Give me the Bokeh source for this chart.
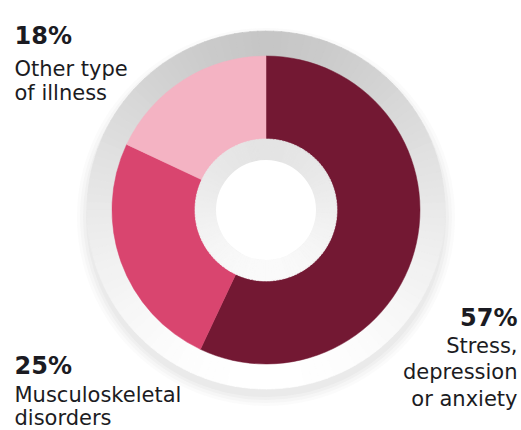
import math
from bokeh.plotting import figure
from bokeh.models import Range1d
from bokeh.core.properties import value
from bokeh.embed import file_html
from bokeh.resources import INLINE

# ---- data ----
categories = ["Stress, depression or anxiety", "Musculoskeletal disorders", "Other type of illness"]
shares = [57, 25, 18]
pct_labels = ["57%", "25%", "18%"]
name_lines = [["Stress,", "depression", "or anxiety"],
              ["Musculoskeletal", "disorders"],
              ["Other type", "of illness"]]
colors = ["#731833", "#d9456f", "#f4b3c3"]

W, H = 521, 430
cx, cy = 265.5, H - 209.5
R_seg, R_out = 154, 179
R_in_ring, R_hole = 71, 50

p = figure(width=W, height=H, x_range=Range1d(0, W), y_range=Range1d(0, H),
           output_backend="svg", toolbar_location=None, min_border=0,
           x_axis_location=None, y_axis_location=None)
p.grid.visible = False
p.outline_line_color = None
p.background_fill_color = "white"
p.border_fill_color = "white"

# soft shadow below the outer ring
for dr, a in [(10, 0.035), (7, 0.05), (4, 0.06), (1, 0.07)]:
    p.circle(x=[cx], y=[cy - 7], radius=R_out + dr, fill_color="#9a9a9a",
             fill_alpha=a, line_color=None)

def gradient_ring(r0, r1, top, bottom, n=144, gamma=0.8):
    xs, ys, st, en, cols = [], [], [], [], []
    for i in range(n):
        a0 = 2 * math.pi * i / n
        a1 = 2 * math.pi * (i + 1) / n
        m = (a0 + a1) / 2
        t = ((1 - math.sin(m)) / 2) ** gamma
        v = int(round(top + (bottom - top) * t))
        xs.append(cx); ys.append(cy); st.append(a0); en.append(a1 + 0.004)
        cols.append("#%02x%02x%02x" % (v, v, v))
    p.annular_wedge(x=xs, y=ys, inner_radius=r0, outer_radius=r1,
                    start_angle=st, end_angle=en, fill_color=cols,
                    line_color=cols, line_width=0.6)

# outer grey ring (gradient top->bottom)
gradient_ring(R_seg - 2, R_out, 198, 255, gamma=0.7)

# donut segments, clockwise from the top
total = float(sum(shares))
cum = 0.0
starts, ends = [], []
for s in shares:
    starts.append(math.pi / 2 - 2 * math.pi * cum / total)
    cum += s
    ends.append(math.pi / 2 - 2 * math.pi * cum / total)
p.annular_wedge(x=[cx] * 3, y=[cy] * 3, inner_radius=R_in_ring - 2, outer_radius=R_seg,
                start_angle=starts, end_angle=ends, direction="clock",
                fill_color=colors, line_color=colors, line_width=0.5)

# inner grey ring and white hole
gradient_ring(R_hole, R_in_ring, 228, 250, gamma=1.0)
p.circle(x=[cx], y=[cy], radius=R_hole, fill_color="white", line_color=None)

# ---- labels ----
txt_color = "#1b1b22"
font = value("DejaVu Sans")
# (x, baseline of pct, first name baseline, line step, align)
label_pos = [(517, 317, 345, 26.5, "right"),
             (14, 365, 394, 23, "left"),
             (14, 35, 68, 24, "left")]
px, py, pt, ax = [], [], [], []
nx, ny, nt, nax = [], [], [], []
for (x, yb, y1, step, al), pct, lines in zip(label_pos, pct_labels, name_lines):
    px.append(x); py.append(H - yb); pt.append(pct); ax.append(al)
    for j, ln in enumerate(lines):
        nx.append(x); ny.append(H - (y1 + j * step)); nt.append(ln); nax.append(al)

p.text(x=px, y=py, text=pt, text_align=ax, text_baseline="alphabetic",
       text_font=font, text_font_style="bold", text_font_size="24px",
       text_color=txt_color)
p.text(x=nx, y=ny, text=nt, text_align=nax, text_baseline="alphabetic",
       text_font=font, text_font_size="21px", text_color=txt_color)

open("out.html", "w").write(file_html(p, INLINE))
